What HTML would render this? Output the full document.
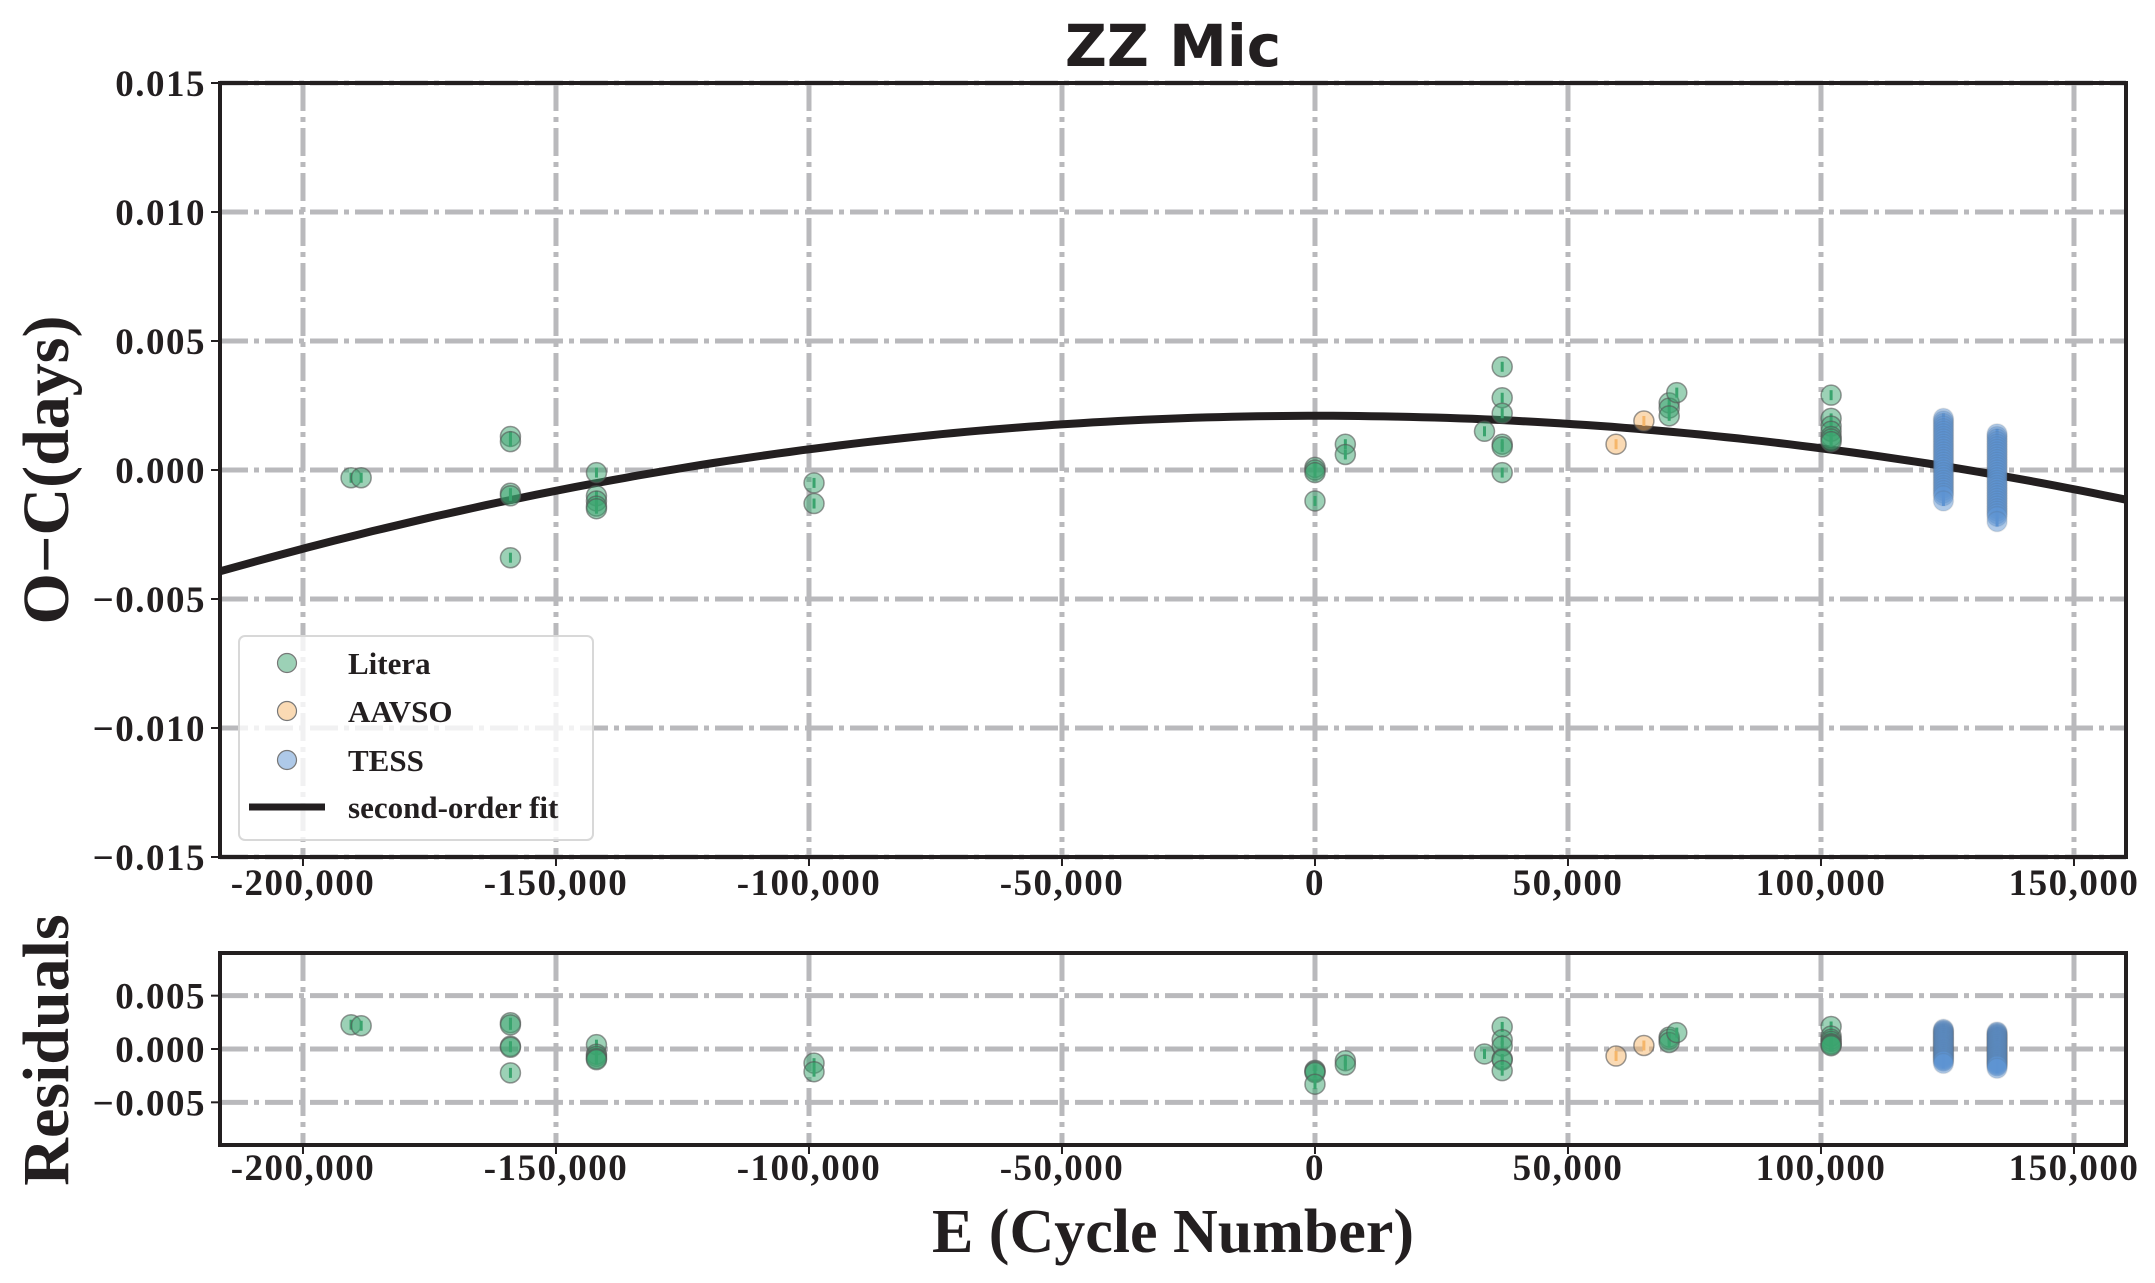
<!DOCTYPE html>
<html><head><meta charset="utf-8"><style>
html,body{margin:0;padding:0;background:#fff}
svg{display:block}
text{font-family:"Liberation Serif",serif;font-weight:bold;fill:#231f20}
</style></head><body>
<svg id="chart" width="2155" height="1283" viewBox="0 0 2155 1283" xmlns="http://www.w3.org/2000/svg">
<text x="1173" y="66" text-anchor="middle" style="font-family:'DejaVu Sans',sans-serif;font-size:58px;font-weight:bold">ZZ Mic</text>
<g id="main"></g>
<g id="resid"></g>
<text transform="translate(68,470) rotate(-90)" text-anchor="middle" style="font-size:66px">O−C(days)</text>
<text transform="translate(68,1050) rotate(-90)" text-anchor="middle" style="font-size:66px">Residuals</text>
<text x="1173" y="1252" text-anchor="middle" style="font-size:62px">E (Cycle Number)</text>
</svg>
<script>
const xTicks=[-200000,-150000,-100000,-50000,0,50000,100000,150000];
const xTickLabels=["-200,000","-150,000","-100,000","-50,000","0","50,000","100,000","150,000"];
const yTicks=[0.015,0.010,0.005,0.000,-0.005,-0.010,-0.015];
const yTickLabels=["0.015","0.010","0.005","0.000","\u22120.005","\u22120.010","\u22120.015"];
const rTicks=[0.005,0.000,-0.005];
const rTickLabels=["0.005","0.000","\u22120.005"];
const fitCoef=[0.0021,2.0e-10,-1.278e-13];
const literaE=[-190500,-188500,-159000,-159000,-159000,-159000,-159000,-142000,-142000,-142000,-142000,-142000,-99000,-99000,0,0,0,0,6000,6000,33500,37000,37000,37000,37000,37000,37000,70000,70000,70000,71500,102000,102000,102000,102000,102000,102000,102000];
const literaOC=[-0.0003,-0.0003,0.0013,0.0011,-0.0009,-0.0010,-0.0034,-0.0001,-0.0010,-0.0012,-0.0014,-0.0015,-0.0005,-0.0013,0.0001,0.0000,-0.0001,-0.0012,0.0010,0.0006,0.0015,0.0040,0.0028,0.0022,0.0010,0.0009,-0.0001,0.0026,0.0024,0.0021,0.0030,0.0029,0.0020,0.0017,0.0015,0.0013,0.0012,0.0011];
const aavsoE=[59500,65000];
const aavsoOC=[0.0010,0.0019];
const tessE=[124200,124200,124200,124200,124200,124200,124200,124200,124200,124200,124200,124200,124200,124200,124200,124200,124200,124200,124200,124200,124200,124200,124200,124200,124200,124200,124200,124200,124200,124200,124200,124200,134800,134800,134800,134800,134800,134800,134800,134800,134800,134800,134800,134800,134800,134800,134800,134800,134800,134800,134800,134800,134800,134800,134800,134800,134800,134800,134800,134800,134800,134800,134800,134800,134800,134800];
const tessOC=[0.0020,0.0019,0.0018,0.0017,0.0016,0.0015,0.0014,0.0013,0.0012,0.0011,0.0010,0.0009,0.0008,0.0007,0.0006,0.0005,0.0004,0.0003,0.0002,0.0001,0.0000,-0.0001,-0.0002,-0.0003,-0.0004,-0.0005,-0.0006,-0.0007,-0.0008,-0.0009,-0.0010,-0.0012,0.0014,0.0013,0.0012,0.0011,0.0010,0.0009,0.0008,0.0007,0.0006,0.0005,0.0004,0.0003,0.0002,0.0001,0.0000,-0.0001,-0.0002,-0.0003,-0.0004,-0.0005,-0.0006,-0.0007,-0.0008,-0.0009,-0.0010,-0.0011,-0.0012,-0.0013,-0.0014,-0.0015,-0.0016,-0.0017,-0.0018,-0.0020];

const NS='http://www.w3.org/2000/svg';
const L=220,R=2126;
const xMin=-216400,xMax=160280;
const X=e=>L+(e-xMin)/(xMax-xMin)*(R-L);
const MT=83,MB=857,RT=953,RB=1145;
const Y=v=>MT+(0.015-v)/0.030*(MB-MT);
const YR=v=>RT+(0.009-v)/0.018*(RB-RT);
const fit=e=>fitCoef[0]+fitCoef[1]*e+fitCoef[2]*e*e;
function mk(tag,attrs,parent){const el=document.createElementNS(NS,tag);for(const k in attrs)el.setAttribute(k,attrs[k]);parent.appendChild(el);return el;}
const colors={lit:'#3aa46e',aav:'#f5b66a',tess:'#5d93d2'};

function panel(g,yFn,ticks,labels,top,bot,isMain,xLabY){
  const grid=mk('g',{},g);
  
  
  xTicks.forEach(t=>{const x=X(t);const l=mk('line',{x1:x,x2:x,y1:top,y2:bot,stroke:'#b9b9bc','stroke-width':5,'stroke-dasharray':'28,6,5,6'},grid);
    
    });
  ticks.forEach(t=>{const y=yFn(t);const l=mk('line',{x1:L,x2:R,y1:y,y2:y,stroke:'#b9b9bc','stroke-width':5,'stroke-dasharray':'28,6,5,6'},grid);
    
    });
  xTicks.forEach((t,i)=>{const x=X(t);mk('line',{x1:x,x2:x,y1:bot,y2:bot+9,stroke:'#231f20','stroke-width':2},g);
    const tx=mk('text',{x:x,y:xLabY,'text-anchor':'middle','font-size':37,'letter-spacing':1.5},g);tx.textContent=xTickLabels[i];
    
    });
  ticks.forEach((t,i)=>{const y=yFn(t);mk('line',{x1:L-9,x2:L,y1:y,y2:y,stroke:'#231f20','stroke-width':2},g);
    const tx=mk('text',{x:206,y:y+13,'text-anchor':'end','font-size':37,'letter-spacing':1.5},g);tx.textContent=labels[i];
    
    });
}
function points(g,Es,Vs,col,yFn,name,so){
  const grp=mk('g',{},g);
  
  
  Es.forEach((e,i)=>{const x=X(e),y=yFn(Vs[i]);
    mk('line',{x1:x,x2:x,y1:y-5,y2:y+5,stroke:col,'stroke-width':3},grp);
    const c=mk('circle',{cx:x,cy:y,r:10,fill:col,'fill-opacity':0.5,stroke:'#555','stroke-opacity':so,'stroke-width':1.5},grp);
    
    });
}
const main=document.getElementById('main');
panel(main,Y,yTicks,yTickLabels,MT,MB,true,895);
let d='';for(let e=xMin;e<xMax;e+=2500){d+=(d?'L':'M')+X(e).toFixed(1)+','+Y(fit(e)).toFixed(1);}
d+='L'+X(xMax).toFixed(1)+','+Y(fit(xMax)).toFixed(1);
const fl=mk('path',{d:d,fill:'none',stroke:'#231f20','stroke-width':8},main);


points(main,literaE,literaOC,colors.lit,Y,'litera-series',0.6);
points(main,aavsoE,aavsoOC,colors.aav,Y,'aavso-series',0.6);
points(main,tessE,tessOC,colors.tess,Y,'tess-series',0.12);
mk('rect',{x:L,y:MT,width:R-L,height:MB-MT,fill:'none',stroke:'#231f20','stroke-width':4},main);
const lg=mk('g',{},main);


mk('rect',{x:239,y:636,width:354,height:204,rx:6,fill:'#fff','fill-opacity':0.8,stroke:'#d8d8d8','stroke-width':2},lg);
const legNames=['Litera','AAVSO','TESS'];const legCols=[colors.lit,colors.aav,colors.tess];const legY=[663,711,760];
legNames.forEach((n,i)=>{mk('circle',{cx:287,cy:legY[i],r:9.5,fill:legCols[i],'fill-opacity':0.5,stroke:'#777','stroke-width':1.2},lg);
  const t=mk('text',{x:348,y:legY[i]+11,'font-size':31},lg);t.textContent=n;
  
  });
mk('line',{x1:249,x2:325,y1:807,y2:807,stroke:'#231f20','stroke-width':7},lg);
const ft=mk('text',{x:348,y:818,'font-size':31},lg);ft.textContent='second-order fit';



const rg=document.getElementById('resid');
panel(rg,YR,rTicks,rTickLabels,RT,RB,false,1180);
points(rg,literaE,literaOC.map((v,i)=>v-fit(literaE[i])),colors.lit,YR,'litera-residuals',0.6);
points(rg,aavsoE,aavsoOC.map((v,i)=>v-fit(aavsoE[i])),colors.aav,YR,'aavso-residuals',0.6);
points(rg,tessE,tessOC.map((v,i)=>v-fit(tessE[i])),colors.tess,YR,'tess-residuals',0.12);
mk('rect',{x:L,y:RT,width:R-L,height:RB-RT,fill:'none',stroke:'#231f20','stroke-width':4},rg);
</script>
</body></html>
